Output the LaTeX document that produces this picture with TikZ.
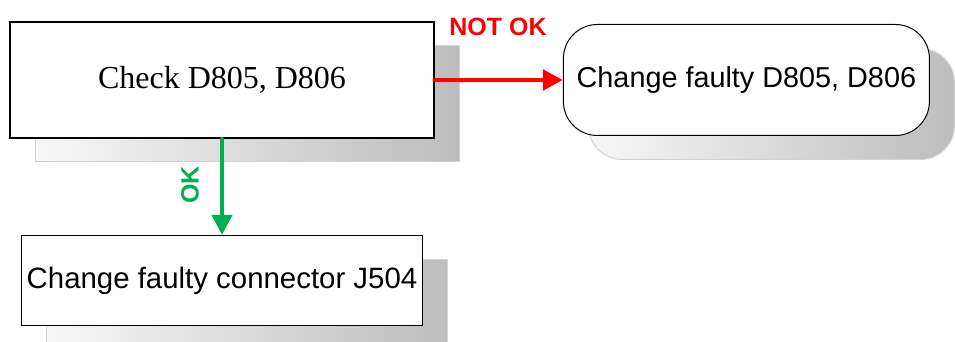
\documentclass[tikz,border=0pt]{standalone}
\usepackage{fontspec}
\setmainfont{Liberation Sans}
\newfontfamily\timesfont{Liberation Serif}
\usetikzlibrary{positioning, shadows, arrows.meta}

\definecolor{okgreen}{RGB}{0,176,80}
\definecolor{notokred}{RGB}{255,0,0}

\tikzset{
	boxshadow/.style={general shadow={shadow xshift=12.5pt, shadow yshift=-12pt,
		left color=gray!6, right color=gray!52, draw=gray!35, line width=0.5pt}},
	stepbox/.style={draw, fill=white, line width=0.9pt, boxshadow, inner sep=0pt},
	endbox/.style={draw, fill=white, line width=0.5pt, rounded corners=17pt, boxshadow, inner sep=0pt},
}

\begin{document}
\begin{tikzpicture}
	\useasboundingbox (0pt,0pt) rectangle (477.5pt,-171pt);
	\node[stepbox, minimum width=212pt, minimum height=58pt,
		font=\timesfont\fontsize{16}{19}\selectfont] (check) at (111pt,-40pt) {Check D805, D806};
	\node[endbox, right=64pt of check, minimum width=183pt, minimum height=55.5pt,
		font=\fontsize{14.4}{17}\selectfont] (diodes) {Change faulty D805, D806};
	\node[stepbox, below=48pt of check, minimum width=200.5pt, minimum height=45pt,
		line width=0.7pt, font=\fontsize{14.7}{17}\selectfont] (connector) {Change faulty connector J504};

	% branches
	\draw[notokred, line width=2.4pt, line cap=round, -{Triangle[length=10pt,width=10pt]}]
		(check.east) -- (diodes.west);
	\draw[okgreen, line width=2pt, line cap=round, -{Triangle[length=10pt,width=10pt]}]
		(check.south) -- (connector.north);
	\node[notokred, font=\bfseries\fontsize{12.5}{14}\selectfont] (notok) at (249pt,-13.5pt) {NOT OK};
	\node[okgreen, rotate=90, font=\bfseries\fontsize{12.5}{14}\selectfont] (ok) at (95pt,-92.5pt) {OK};
\end{tikzpicture}
\end{document}
